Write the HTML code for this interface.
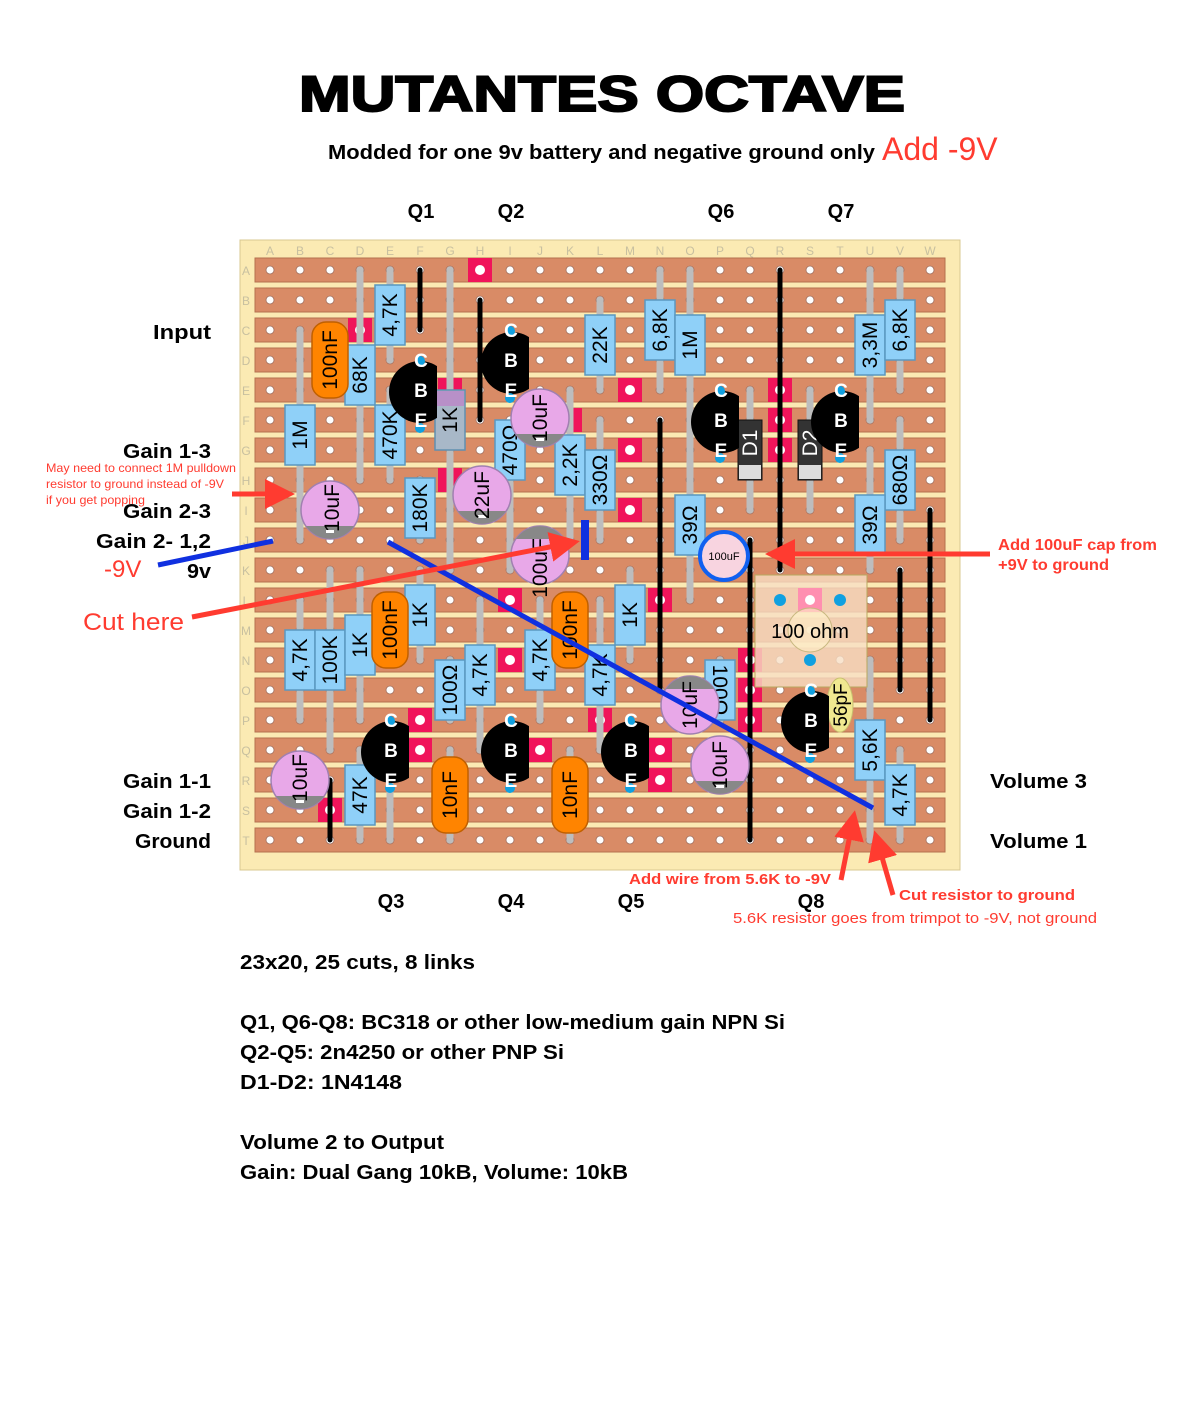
<!DOCTYPE html>
<html><head><meta charset="utf-8"><style>
html,body{margin:0;padding:0;background:#fff;}
svg{display:block;}
.lead{stroke:#bdbdbd;stroke-width:7;stroke-linecap:round;}
.res{fill:#8fd0f8;stroke:#5a98c0;stroke-width:1.5;}
.rt{font-family:"Liberation Sans",sans-serif;font-size:21px;text-anchor:middle;fill:#000;}
.cap{fill:#ff8400;stroke:#c06000;stroke-width:1.5;}
.el{fill:#e8a8e8;stroke:#a080b0;stroke-width:1.5;}
.wire{stroke:#000;stroke-width:5;stroke-linecap:round;}
.cut{fill:#f0145a;}
.tl{font-family:"Liberation Sans",sans-serif;font-weight:bold;font-size:19px;fill:#fff;text-anchor:middle;}
.lb{font-family:"Liberation Sans",sans-serif;font-weight:bold;font-size:20px;fill:#000;}
.red{fill:#ff3b30;font-family:"Liberation Sans",sans-serif;}
.gl{font-family:"Liberation Sans",sans-serif;font-size:12px;fill:#c8c0a0;text-anchor:middle;}
</style></head><body>
<svg width="1178" height="1415" viewBox="0 0 1178 1415" xmlns="http://www.w3.org/2000/svg">
<defs>
<pattern id="holes" x="255" y="255" width="30" height="30" patternUnits="userSpaceOnUse">
<circle cx="15" cy="15" r="4" fill="#fff" stroke="#a07060" stroke-width="0.8"/>
</pattern>
<marker id="ah" markerWidth="6" markerHeight="6" refX="4" refY="3" orient="auto" markerUnits="strokeWidth">
<path d="M0,0 L6,3 L0,6 z" fill="#ff3b30"/>
</marker>
<clipPath id="tc"><rect x="-40" y="-40" width="57" height="80"/></clipPath>
</defs>

<text x="602" y="111" text-anchor="middle" textLength="606" lengthAdjust="spacingAndGlyphs" font-family="Liberation Sans,sans-serif" font-weight="bold" font-size="50" stroke="#000" stroke-width="2">MUTANTES OCTAVE</text>
<text x="328" y="159" class="lb" textLength="547" lengthAdjust="spacingAndGlyphs">Modded for one 9v battery and negative ground only</text>
<text x="882" y="160" class="red" font-size="32">Add -9V</text>

<text x="421" y="218" class="lb" text-anchor="middle">Q1</text>
<text x="511" y="218" class="lb" text-anchor="middle">Q2</text>
<text x="721" y="218" class="lb" text-anchor="middle">Q6</text>
<text x="841" y="218" class="lb" text-anchor="middle">Q7</text>
<text x="391" y="908" class="lb" text-anchor="middle">Q3</text>
<text x="511" y="908" class="lb" text-anchor="middle">Q4</text>
<text x="631" y="908" class="lb" text-anchor="middle">Q5</text>
<text x="811" y="908" class="lb" text-anchor="middle">Q8</text>

<rect x="240" y="240" width="720" height="630" fill="#fbeab3" stroke="#d8c890"/>
<g fill="#d98b66" stroke="#b5704f" stroke-width="1">
<rect x="255" y="258" width="690" height="24"/><rect x="255" y="288" width="690" height="24"/>
<rect x="255" y="318" width="690" height="24"/><rect x="255" y="348" width="690" height="24"/>
<rect x="255" y="378" width="690" height="24"/><rect x="255" y="408" width="690" height="24"/>
<rect x="255" y="438" width="690" height="24"/><rect x="255" y="468" width="690" height="24"/>
<rect x="255" y="498" width="690" height="24"/><rect x="255" y="528" width="690" height="24"/>
<rect x="255" y="558" width="690" height="24"/><rect x="255" y="588" width="690" height="24"/>
<rect x="255" y="618" width="690" height="24"/><rect x="255" y="648" width="690" height="24"/>
<rect x="255" y="678" width="690" height="24"/><rect x="255" y="708" width="690" height="24"/>
<rect x="255" y="738" width="690" height="24"/><rect x="255" y="768" width="690" height="24"/>
<rect x="255" y="798" width="690" height="24"/><rect x="255" y="828" width="690" height="24"/>
</g>
<rect x="255" y="255" width="690" height="600" fill="url(#holes)"/>
<g class="gl">
<text x="270" y="255">A</text><text x="300" y="255">B</text><text x="330" y="255">C</text><text x="360" y="255">D</text><text x="390" y="255">E</text><text x="420" y="255">F</text><text x="450" y="255">G</text><text x="480" y="255">H</text><text x="510" y="255">I</text><text x="540" y="255">J</text><text x="570" y="255">K</text><text x="600" y="255">L</text><text x="630" y="255">M</text><text x="660" y="255">N</text><text x="690" y="255">O</text><text x="720" y="255">P</text><text x="750" y="255">Q</text><text x="780" y="255">R</text><text x="810" y="255">S</text><text x="840" y="255">T</text><text x="870" y="255">U</text><text x="900" y="255">V</text><text x="930" y="255">W</text>
<text x="246" y="275">A</text><text x="246" y="305">B</text><text x="246" y="335">C</text><text x="246" y="365">D</text><text x="246" y="395">E</text><text x="246" y="425">F</text><text x="246" y="455">G</text><text x="246" y="485">H</text><text x="246" y="515">I</text><text x="246" y="545">J</text><text x="246" y="575">K</text><text x="246" y="605">L</text><text x="246" y="635">M</text><text x="246" y="665">N</text><text x="246" y="695">O</text><text x="246" y="725">P</text><text x="246" y="755">Q</text><text x="246" y="785">R</text><text x="246" y="815">S</text><text x="246" y="845">T</text>
</g>

<g>
<g class="cut">
<rect x="468" y="258" width="24" height="24"/><rect x="348" y="318" width="24" height="24"/>
<rect x="438" y="378" width="24" height="24"/><rect x="558" y="408" width="24" height="24"/>
<rect x="618" y="378" width="24" height="24"/><rect x="618" y="438" width="24" height="24"/>
<rect x="618" y="498" width="24" height="24"/><rect x="438" y="468" width="24" height="24"/>
<rect x="768" y="378" width="24" height="24"/><rect x="768" y="408" width="24" height="24"/>
<rect x="768" y="438" width="24" height="24"/>
<rect x="498" y="588" width="24" height="24"/><rect x="498" y="648" width="24" height="24"/>
<rect x="408" y="708" width="24" height="24"/><rect x="408" y="738" width="24" height="24"/>
<rect x="528" y="738" width="24" height="24"/><rect x="648" y="738" width="24" height="24"/>
<rect x="648" y="768" width="24" height="24"/><rect x="588" y="708" width="24" height="24"/>
<rect x="318" y="798" width="24" height="24"/><rect x="648" y="588" width="24" height="24"/>
<rect x="738" y="648" width="24" height="24"/><rect x="738" y="678" width="24" height="24"/>
<rect x="738" y="708" width="24" height="24"/>
</g>
<g fill="#fff">
<circle cx="480" cy="270" r="5"/><circle cx="360" cy="330" r="5"/><circle cx="630" cy="390" r="5"/><circle cx="630" cy="450" r="5"/><circle cx="630" cy="510" r="5"/><circle cx="510" cy="600" r="5"/><circle cx="510" cy="660" r="5"/><circle cx="420" cy="720" r="5"/><circle cx="420" cy="750" r="5"/><circle cx="540" cy="750" r="5"/><circle cx="660" cy="750" r="5"/><circle cx="660" cy="780" r="5"/><circle cx="600" cy="720" r="5"/><circle cx="330" cy="810" r="5"/><circle cx="660" cy="600" r="5"/><circle cx="750" cy="660" r="5"/><circle cx="750" cy="690" r="5"/><circle cx="750" cy="720" r="5"/><circle cx="780" cy="390" r="5"/><circle cx="780" cy="420" r="5"/><circle cx="780" cy="450" r="5"/>
</g>
</g>

<g class="wire">
<line x1="420" y1="270" x2="420" y2="330"/><line x1="480" y1="300" x2="480" y2="420"/>
<line x1="660" y1="420" x2="660" y2="690"/><line x1="780" y1="270" x2="780" y2="570"/>
<line x1="750" y1="540" x2="750" y2="840"/><line x1="900" y1="570" x2="900" y2="690"/>
<line x1="930" y1="510" x2="930" y2="720"/><line x1="330" y1="780" x2="330" y2="840"/>
</g>

<g class="lead">
<line x1="390" y1="270" x2="390" y2="360"/><line x1="360" y1="270" x2="360" y2="480"/>
<line x1="300" y1="330" x2="300" y2="540"/><line x1="390" y1="390" x2="390" y2="480"/>
<line x1="450" y1="270" x2="450" y2="570"/><line x1="420" y1="480" x2="420" y2="540"/>
<line x1="510" y1="480" x2="510" y2="570"/><line x1="570" y1="390" x2="570" y2="540"/>
<line x1="600" y1="420" x2="600" y2="540"/><line x1="600" y1="300" x2="600" y2="390"/>
<line x1="660" y1="270" x2="660" y2="390"/><line x1="690" y1="270" x2="690" y2="480"/>
<line x1="690" y1="480" x2="690" y2="600"/><line x1="870" y1="270" x2="870" y2="420"/>
<line x1="900" y1="270" x2="900" y2="390"/><line x1="900" y1="420" x2="900" y2="540"/>
<line x1="870" y1="450" x2="870" y2="570"/><line x1="870" y1="660" x2="870" y2="840"/>
<line x1="900" y1="750" x2="900" y2="840"/><line x1="300" y1="600" x2="300" y2="720"/>
<line x1="330" y1="570" x2="330" y2="750"/><line x1="360" y1="570" x2="360" y2="720"/>
<line x1="420" y1="570" x2="420" y2="660"/><line x1="450" y1="660" x2="450" y2="720"/>
<line x1="480" y1="600" x2="480" y2="750"/><line x1="540" y1="600" x2="540" y2="720"/>
<line x1="600" y1="600" x2="600" y2="750"/><line x1="630" y1="570" x2="630" y2="660"/>
<line x1="360" y1="750" x2="360" y2="840"/><line x1="720" y1="660" x2="720" y2="720"/>
<line x1="750" y1="390" x2="750" y2="510"/><line x1="810" y1="390" x2="810" y2="510"/>
<line x1="390" y1="780" x2="390" y2="840"/><line x1="450" y1="750" x2="450" y2="840"/>
<line x1="570" y1="750" x2="570" y2="840"/><line x1="330" y1="330" x2="330" y2="390"/>
</g>

<g>
<rect class="res" x="375" y="285" width="30" height="60"/>
<rect class="res" x="345" y="345" width="30" height="60"/>
<rect class="res" x="285" y="405" width="30" height="60"/>
<rect class="res" x="375" y="405" width="30" height="60"/>
<rect x="435" y="390" width="30" height="60" fill="#a8b8c8" stroke="#6090b0" stroke-width="1.5"/>
<rect x="436" y="391" width="28" height="15" fill="#b890c8"/>
<rect class="res" x="405" y="478" width="30" height="60"/>
<rect class="res" x="495" y="420" width="30" height="60"/>
<rect class="res" x="555" y="435" width="30" height="60"/>
<rect class="res" x="585" y="450" width="30" height="60"/>
<rect class="res" x="585" y="315" width="30" height="60"/>
<rect class="res" x="645" y="300" width="30" height="60"/>
<rect class="res" x="675" y="315" width="30" height="60"/>
<rect class="res" x="675" y="495" width="30" height="60"/>
<rect class="res" x="855" y="315" width="30" height="60"/>
<rect class="res" x="885" y="300" width="30" height="60"/>
<rect class="res" x="885" y="450" width="30" height="60"/>
<rect class="res" x="855" y="495" width="30" height="60"/>
<rect class="res" x="855" y="720" width="30" height="60"/>
<rect class="res" x="885" y="765" width="30" height="60"/>
<rect class="res" x="285" y="630" width="30" height="60"/>
<rect class="res" x="315" y="630" width="30" height="60"/>
<rect class="res" x="345" y="615" width="30" height="60"/>
<rect class="res" x="405" y="585" width="30" height="60"/>
<rect class="res" x="435" y="660" width="30" height="60"/>
<rect class="res" x="465" y="645" width="30" height="60"/>
<rect class="res" x="525" y="630" width="30" height="60"/>
<rect class="res" x="585" y="645" width="30" height="60"/>
<rect class="res" x="615" y="585" width="30" height="60"/>
<rect class="res" x="345" y="765" width="30" height="60"/>
<rect class="res" x="705" y="660" width="30" height="60"/>
</g>
<g class="rt">
<text transform="translate(390,315) rotate(-90)" dy="7">4,7K</text>
<text transform="translate(360,375) rotate(-90)" dy="7">68K</text>
<text transform="translate(300,435) rotate(-90)" dy="7">1M</text>
<text transform="translate(390,435) rotate(-90)" dy="7">470K</text>
<text transform="translate(450,420) rotate(-90)" dy="7">1K</text>
<text transform="translate(420,508) rotate(-90)" dy="7">180K</text>
<text transform="translate(510,450) rotate(-90)" dy="7">470Ω</text>
<text transform="translate(570,465) rotate(-90)" dy="7">2,2K</text>
<text transform="translate(600,480) rotate(-90)" dy="7">330Ω</text>
<text transform="translate(600,345) rotate(-90)" dy="7">22K</text>
<text transform="translate(660,330) rotate(-90)" dy="7">6,8K</text>
<text transform="translate(690,345) rotate(-90)" dy="7">1M</text>
<text transform="translate(690,525) rotate(-90)" dy="7">39Ω</text>
<text transform="translate(870,345) rotate(-90)" dy="7">3,3M</text>
<text transform="translate(900,330) rotate(-90)" dy="7">6,8K</text>
<text transform="translate(900,480) rotate(-90)" dy="7">680Ω</text>
<text transform="translate(870,525) rotate(-90)" dy="7">39Ω</text>
<text transform="translate(870,750) rotate(-90)" dy="7">5,6K</text>
<text transform="translate(900,795) rotate(-90)" dy="7">4,7K</text>
<text transform="translate(300,660) rotate(-90)" dy="7">4,7K</text>
<text transform="translate(330,660) rotate(-90)" dy="7">100K</text>
<text transform="translate(360,645) rotate(-90)" dy="7">1K</text>
<text transform="translate(420,615) rotate(-90)" dy="7">1K</text>
<text transform="translate(450,690) rotate(-90)" dy="7">100Ω</text>
<text transform="translate(480,675) rotate(-90)" dy="7">4,7K</text>
<text transform="translate(540,660) rotate(-90)" dy="7">4,7K</text>
<text transform="translate(600,675) rotate(-90)" dy="7">4,7K</text>
<text transform="translate(630,615) rotate(-90)" dy="7">1K</text>
<text transform="translate(360,795) rotate(-90)" dy="7">47K</text>
<text transform="translate(720,690) rotate(90)" dy="7">100Ω</text>
</g>

<rect x="738" y="420" width="24" height="60" fill="#333" stroke="#111"/>
<rect x="739" y="465" width="22" height="14" fill="#ddd"/>
<text transform="translate(750,443) rotate(-90)" dy="7" class="rt" style="fill:#fff">D1</text>
<rect x="798" y="420" width="24" height="60" fill="#333" stroke="#111"/>
<rect x="799" y="465" width="22" height="14" fill="#ddd"/>
<text transform="translate(810,443) rotate(-90)" dy="7" class="rt" style="fill:#fff">D2</text>

<g>
<rect class="cap" x="312" y="322" width="36" height="76" rx="14"/>
<rect class="cap" x="372" y="592" width="36" height="76" rx="14"/>
<rect class="cap" x="552" y="592" width="36" height="76" rx="14"/>
<rect class="cap" x="432" y="757" width="36" height="76" rx="14"/>
<rect class="cap" x="552" y="757" width="36" height="76" rx="14"/>
</g>
<g class="rt">
<text transform="translate(330,360) rotate(-90)" dy="7">100nF</text>
<text transform="translate(390,630) rotate(-90)" dy="7">100nF</text>
<text transform="translate(570,630) rotate(-90)" dy="7">100nF</text>
<text transform="translate(450,795) rotate(-90)" dy="7">10nF</text>
<text transform="translate(570,795) rotate(-90)" dy="7">10nF</text>
</g>

<g>
<g transform="translate(330,510)"><circle class="el" r="29"/><path d="M-24,16 A29,29 0 0 0 24,16 Z" fill="#888"/><rect x="-4" y="20" width="8" height="3" fill="#fff"/></g>
<g transform="translate(540,418)"><circle class="el" r="29"/><path d="M-24,16 A29,29 0 0 0 24,16 Z" fill="#888"/><rect x="-4" y="20" width="8" height="3" fill="#fff"/></g>
<g transform="translate(482,495)"><circle class="el" r="29"/><path d="M-24,16 A29,29 0 0 0 24,16 Z" fill="#888"/><rect x="-4" y="20" width="8" height="3" fill="#fff"/></g>
<g transform="translate(540,555)"><circle class="el" r="29"/><path d="M-24,-16 A29,29 0 0 1 24,-16 Z" fill="#888"/></g>
<g transform="translate(690,705)"><circle class="el" r="29"/><path d="M-24,-16 A29,29 0 0 1 24,-16 Z" fill="#888"/></g>
<g transform="translate(720,765)"><circle class="el" r="29"/><path d="M-24,16 A29,29 0 0 0 24,16 Z" fill="#888"/><rect x="-4" y="20" width="8" height="3" fill="#fff"/></g>
<g transform="translate(300,780)"><circle class="el" r="29"/><path d="M-24,16 A29,29 0 0 0 24,16 Z" fill="#888"/><rect x="-4" y="20" width="8" height="3" fill="#fff"/></g>
</g>
<g class="rt">
<text transform="translate(332,508) rotate(-90)" dy="7">10uF</text>
<text transform="translate(540,418) rotate(-90)" dy="7">10uF</text>
<text transform="translate(482,495) rotate(-90)" dy="7">22uF</text>
<text transform="translate(540,568) rotate(-90)" dy="7">100uF</text>
<text transform="translate(690,705) rotate(-90)" dy="7">10uF</text>
<text transform="translate(720,765) rotate(-90)" dy="7">10uF</text>
<text transform="translate(300,778) rotate(-90)" dy="7">10uF</text>
</g>
<circle cx="724" cy="556" r="24" fill="#f8d4e0" stroke="#1060f0" stroke-width="4"/>
<text x="724" y="560" text-anchor="middle" font-family="Liberation Sans,sans-serif" font-size="11">100uF</text>

<rect x="755" y="575" width="112" height="112" fill="rgba(248,222,196,0.8)" stroke="#b8a860"/>
<rect x="798" y="588" width="24" height="24" fill="#ff8fb0"/>
<circle cx="810" cy="600" r="5" fill="#fff"/>
<circle cx="810" cy="630" r="22" fill="rgba(255,240,200,0.6)" stroke="#c8b880"/>
<g fill="#10a0e0"><circle cx="780" cy="600" r="6"/><circle cx="840" cy="600" r="6"/><circle cx="810" cy="660" r="6"/></g>
<text x="810" y="638" text-anchor="middle" font-family="Liberation Sans,sans-serif" font-size="20">100 ohm</text>

<ellipse cx="840" cy="705" rx="13" ry="27" fill="#f0e890" stroke="#c8c070"/>
<text transform="translate(840,705) rotate(-90)" dy="7" class="rt" style="font-size:19px">56pF</text>

<g>
<g transform="translate(420,392)"><circle r="31" clip-path="url(#tc)" fill="#000"/></g>
<g transform="translate(512,363)"><circle r="31" clip-path="url(#tc)" fill="#000"/></g>
<g transform="translate(722,422)"><circle r="31" clip-path="url(#tc)" fill="#000"/></g>
<g transform="translate(842,422)"><circle r="31" clip-path="url(#tc)" fill="#000"/></g>
<g transform="translate(392,752)"><circle r="31" clip-path="url(#tc)" fill="#000"/></g>
<g transform="translate(512,752)"><circle r="31" clip-path="url(#tc)" fill="#000"/></g>
<g transform="translate(632,752)"><circle r="31" clip-path="url(#tc)" fill="#000"/></g>
<g transform="translate(812,722)"><circle r="31" clip-path="url(#tc)" fill="#000"/></g>
</g>
<g fill="#10a0e0">
<circle cx="420" cy="361" r="5"/><circle cx="420" cy="428" r="5"/>
<circle cx="510" cy="331" r="5"/><circle cx="510" cy="398" r="5"/>
<circle cx="720" cy="391" r="5"/><circle cx="720" cy="458" r="5"/>
<circle cx="840" cy="391" r="5"/><circle cx="840" cy="458" r="5"/>
<circle cx="390" cy="721" r="5"/><circle cx="390" cy="788" r="5"/>
<circle cx="510" cy="721" r="5"/><circle cx="510" cy="788" r="5"/>
<circle cx="630" cy="721" r="5"/><circle cx="630" cy="788" r="5"/>
<circle cx="810" cy="691" r="5"/><circle cx="810" cy="758" r="5"/>
</g>
<g class="tl">
<text x="421" y="367">C</text><text x="421" y="397">B</text><text x="421" y="427">E</text>
<text x="511" y="337">C</text><text x="511" y="367">B</text><text x="511" y="397">E</text>
<text x="721" y="397">C</text><text x="721" y="427">B</text><text x="721" y="457">E</text>
<text x="841" y="397">C</text><text x="841" y="427">B</text><text x="841" y="457">E</text>
<text x="391" y="727">C</text><text x="391" y="757">B</text><text x="391" y="787">E</text>
<text x="511" y="727">C</text><text x="511" y="757">B</text><text x="511" y="787">E</text>
<text x="631" y="727">C</text><text x="631" y="757">B</text><text x="631" y="787">E</text>
<text x="811" y="697">C</text><text x="811" y="727">B</text><text x="811" y="757">E</text>
</g>

<line x1="388" y1="542" x2="873" y2="808" stroke="#1030e0" stroke-width="5"/>
<line x1="158" y1="565" x2="273" y2="541" stroke="#1030e0" stroke-width="5"/>
<line x1="585" y1="520" x2="585" y2="560" stroke="#1030e0" stroke-width="8"/>

<g stroke="#ff3b30" stroke-width="5" fill="none">
<line x1="192" y1="617" x2="570" y2="543" marker-end="url(#ah)"/>
<line x1="232" y1="494" x2="285" y2="494" marker-end="url(#ah)"/>
<line x1="990" y1="554" x2="775" y2="554" marker-end="url(#ah)"/>
<line x1="841" y1="880" x2="853" y2="820" marker-end="url(#ah)"/>
<line x1="893" y1="895" x2="877" y2="840" marker-end="url(#ah)"/>
</g>

<g class="lb">
<text x="153" y="339" textLength="58" lengthAdjust="spacingAndGlyphs">Input</text>
<text x="123" y="458" textLength="88" lengthAdjust="spacingAndGlyphs">Gain 1-3</text>
<text x="123" y="518" textLength="88" lengthAdjust="spacingAndGlyphs">Gain 2-3</text>
<text x="96" y="548" textLength="115" lengthAdjust="spacingAndGlyphs">Gain 2- 1,2</text>
<text x="187" y="578" textLength="24" lengthAdjust="spacingAndGlyphs">9v</text>
<text x="123" y="788" textLength="88" lengthAdjust="spacingAndGlyphs">Gain 1-1</text>
<text x="123" y="818" textLength="88" lengthAdjust="spacingAndGlyphs">Gain 1-2</text>
<text x="135" y="848" textLength="76" lengthAdjust="spacingAndGlyphs">Ground</text>
<text x="990" y="788" textLength="97" lengthAdjust="spacingAndGlyphs">Volume 3</text>
<text x="990" y="848" textLength="97" lengthAdjust="spacingAndGlyphs">Volume 1</text>
</g>
<text x="104" y="577" class="red" font-size="24">-9V</text>
<text x="83" y="630" class="red" font-size="24" textLength="101" lengthAdjust="spacingAndGlyphs">Cut here</text>
<text x="46" y="472" class="red" font-size="12" textLength="190" lengthAdjust="spacingAndGlyphs">May need to connect 1M pulldown</text>
<text x="46" y="488" class="red" font-size="12" textLength="178" lengthAdjust="spacingAndGlyphs">resistor to ground instead of -9V</text>
<text x="46" y="504" class="red" font-size="12" textLength="99" lengthAdjust="spacingAndGlyphs">if you get popping</text>
<text x="998" y="550" class="red" font-size="16" font-weight="bold" textLength="159" lengthAdjust="spacingAndGlyphs">Add 100uF cap from</text>
<text x="998" y="570" class="red" font-size="16" font-weight="bold" textLength="111" lengthAdjust="spacingAndGlyphs">+9V to ground</text>
<text x="629" y="884" class="red" font-size="15" font-weight="bold" textLength="202" lengthAdjust="spacingAndGlyphs">Add wire from 5.6K to -9V</text>
<text x="899" y="900" class="red" font-size="15" font-weight="bold" textLength="176" lengthAdjust="spacingAndGlyphs">Cut resistor to ground</text>
<text x="733" y="923" class="red" font-size="15" textLength="364" lengthAdjust="spacingAndGlyphs">5.6K resistor goes from trimpot to -9V, not ground</text>

<g class="lb">
<text x="240" y="969" textLength="235" lengthAdjust="spacingAndGlyphs">23x20, 25 cuts, 8 links</text>
<text x="240" y="1029" textLength="545" lengthAdjust="spacingAndGlyphs">Q1, Q6-Q8: BC318 or other low-medium gain NPN Si</text>
<text x="240" y="1059" textLength="324" lengthAdjust="spacingAndGlyphs">Q2-Q5: 2n4250 or other PNP Si</text>
<text x="240" y="1089" textLength="162" lengthAdjust="spacingAndGlyphs">D1-D2: 1N4148</text>
<text x="240" y="1149" textLength="204" lengthAdjust="spacingAndGlyphs">Volume 2 to Output</text>
<text x="240" y="1179" textLength="388" lengthAdjust="spacingAndGlyphs">Gain: Dual Gang 10kB, Volume: 10kB</text>
</g>
</svg>
</body></html>
